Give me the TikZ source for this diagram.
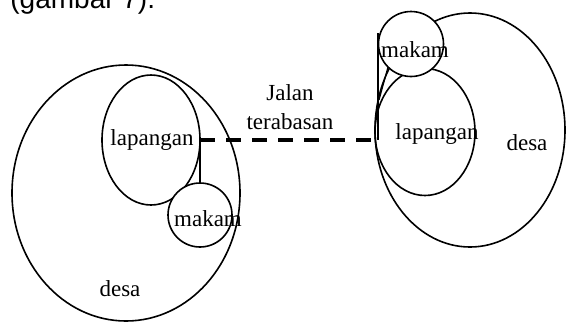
\documentclass[tikz,border=0pt]{standalone}
\usepackage{fontspec}
\setmainfont{Liberation Serif}
\setsansfont{Liberation Sans}
\usetikzlibrary{shapes.geometric}
\begin{document}
\begin{tikzpicture}[x=0.5pt,y=-0.5pt,
  area/.style={draw=black,line width=0.8pt,ellipse,inner sep=0pt,outer sep=0pt},
  lbl/.style={inner sep=0pt,font=\fontsize{11.5}{14.5}\selectfont},
  link/.style={draw=black,line width=0.6pt},
  road/.style={draw=black,line width=2pt,dash pattern=on 7.5pt off 5.5pt}]
\useasboundingbox (0,0) rectangle (567,322);
\node[anchor=base west,inner sep=0pt,font=\sffamily\fontsize{14}{16}\selectfont] (judul) at (10,8) {(gambar 7).};
% kiri
\node[area,minimum width=114pt,minimum height=128pt] (desaL) at (126,193) {};
\node[area,minimum width=49pt,minimum height=65pt] (lapL) at (151,140) {};
\node[area,circle,fill=white,minimum size=32pt] (makamL) at (200,215) {};
\draw[link] (lapL.east) -- (makamL.north);
\node[lbl] (tlapL) at (152,140) {lapangan};
\node[lbl] (tmakamL) at (208,219) {makam};
\node[lbl] (tdesaL) at (120,289) {desa};
% kanan
\node[area,minimum width=95pt,minimum height=117pt] (desaR) at (470,130) {};
\node[area,minimum width=50pt,minimum height=63.5pt] (lapR) at (425,132) {};
\node[area,circle,fill=white,minimum size=32.5pt] (makamR) at (411,44) {};
\coordinate (topR) at (378,33);
\coordinate (endR) at (378,140);
\coordinate (midR) at (379,100);
\draw[link] (topR) -- (endR);
\draw[link] (makamR.225) -- (midR);
\node[lbl] (tmakamR) at (415,50) {makam};
\node[lbl] (tlapR) at (437,134) {lapangan};
\node[lbl] (tdesaR) at (527,143) {desa};
% jalan
\draw[road] (lapL.east) -- (endR);
\node[lbl,align=center] (jalan) at (290,107) {Jalan\\terabasan};
\end{tikzpicture}
\end{document}
